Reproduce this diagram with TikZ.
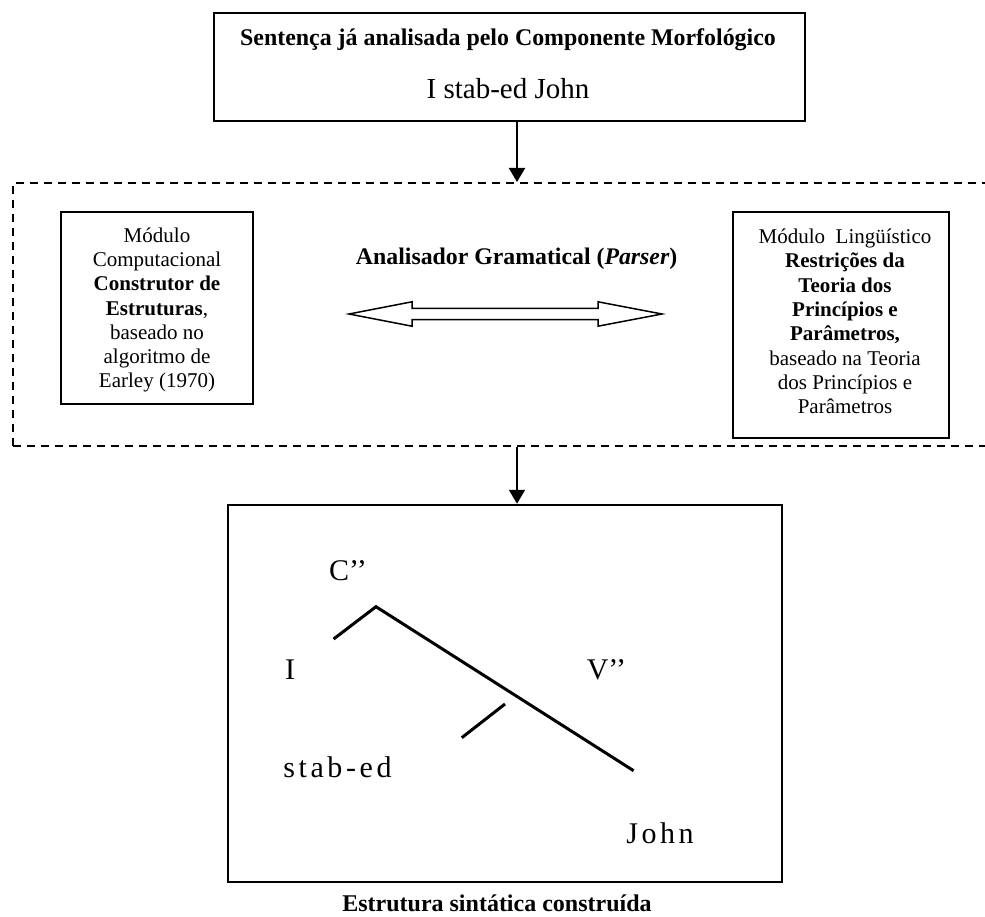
\documentclass[tikz,border=0pt]{standalone}
\usepackage{fontspec}
\setmainfont{Liberation Serif}
\usetikzlibrary{arrows.meta}
\begin{document}
\begin{tikzpicture}[x=1pt,y=-1pt,
  box/.style={draw, line width=2pt, inner sep=0pt},
  txt/.style={inner sep=0pt, anchor=base},
  modtext/.style={inner sep=0pt, align=center, font=\fontsize{21}{24.3}\selectfont},
  flow/.style={line width=2pt, -{Triangle[length=14pt,width=16pt]}},
  branch/.style={line width=3pt},
  treelabel/.style={inner sep=0pt, anchor=base, font=\fontsize{30}{36}\selectfont},
  spaced/.style={font=\fontsize{30}{36}\selectfont\addfontfeature{LetterSpace=12}},
  ]
\clip (0,0) rectangle (985,917);

% input sentence
\node[box, minimum width=591pt, minimum height=108pt] (input) at (509.5,67) {};
\node[txt, font=\fontsize{23.9}{28}\selectfont\bfseries] (inhead) at (508,46)
  {Sentença já analisada pelo Componente Morfológico};
\node[txt, font=\fontsize{29}{34}\selectfont] (insent) at (508,99) {I stab-ed John};

% parser region
\node[draw, line width=2pt, dash pattern=on 8pt off 6pt, inner sep=0pt,
      minimum width=987pt, minimum height=263pt] (parser) at (506.5,314.5) {};

% computational module
\node[box, minimum width=192pt, minimum height=192pt] (comp) at (157,308) {};
\node[modtext] (comptext) at (157,310)
  {Módulo\\Computacional\\\textbf{Construtor de}\\\textbf{Estruturas},\\baseado no\\algoritmo de\\Earley (1970)};

% linguistic module
\node[box, minimum width=216pt, minimum height=226pt] (ling) at (841,325) {};
\node[modtext] (lingtext) at (845,321.5)
  {Módulo\ \ Lingüístico\\\textbf{Restrições da}\\\textbf{Teoria dos}\\\textbf{Princípios e}\\\textbf{Parâmetros,}\\baseado na Teoria\\dos Princípios e\\Parâmetros};

% parser title and two-way link
\node[txt, font=\fontsize{23.8}{28}\selectfont\bfseries] (ptitle) at (516.7,265)
  {Analisador Gramatical (\textit{Parser})};
\draw[line width=1.5pt, fill=white, line join=miter]
  (349,314) -- (412,301.8) -- (412,308.5) -- (598,308.5) -- (598,301.8) -- (662,314)
  -- (598,326.2) -- (598,319.5) -- (412,319.5) -- (412,326.2) -- cycle;

% syntactic structure
\node[draw, line width=2.5pt, inner sep=0pt, minimum width=554pt, minimum height=377pt] (tree) at (505,693.5) {};
\node[treelabel] (cbar) at (348,580) {C’’};
\node[treelabel] (ilab) at (290,679) {I};
\node[treelabel] (vbar) at (606.5,679) {V’’};
\node[treelabel, spaced] (verb) at (337.5,777) {stab-ed};
\node[treelabel, spaced] (obj) at (660,843) {John};
\coordinate (apex) at (376,606.7);
\coordinate (ileg) at (333.6,639);
\coordinate (vleg) at (633.6,770.7);
\coordinate (stop) at (505,704);
\coordinate (sbot) at (461.8,737.7);
\draw[branch] (ileg) -- (apex) -- (vleg);
\draw[branch] (stop) -- (sbot);

\node[txt, font=\fontsize{24}{28}\selectfont\bfseries] (caption) at (497,911)
  {Estrutura sintática construída};

% flow arrows
\coordinate (ax) at (517,0);
\draw[flow] (input.south -| ax) -- (parser.north -| ax);
\draw[flow] (parser.south -| ax) -- (tree.north -| ax);
\end{tikzpicture}
\end{document}
